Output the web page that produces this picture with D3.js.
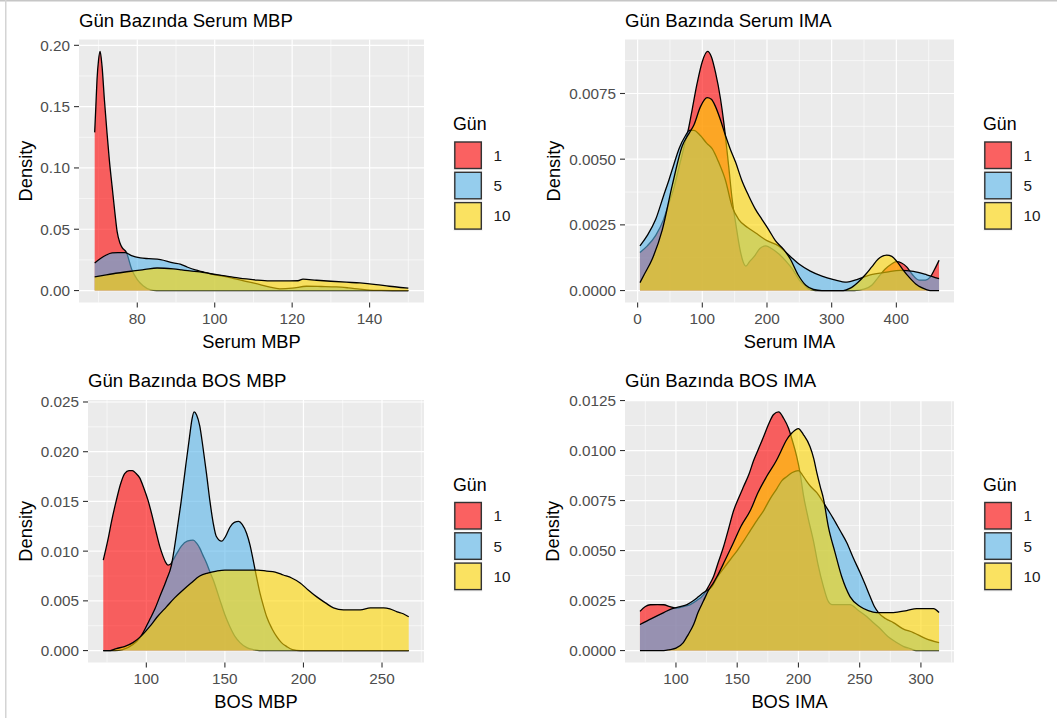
<!DOCTYPE html>
<html><head><meta charset="utf-8">
<script src="https://cdn.jsdelivr.net/npm/d3@7"></script>
<style>
body{margin:0;background:#fff;}
svg{display:block;font-family:"Liberation Sans",Arial,Helvetica,sans-serif;}
</style>
</head><body>
<svg id="chart" width="1057" height="722"></svg>
<script>
// ---------------- data ----------------
const dayLevels = ["1", "5", "10"];
const dayFills = ["#FF0000", "#56B4E9", "#FFD700"];

// Panel 1: Serum MBP
const serumMbpTicksX = [80, 100, 120, 140];
const serumMbpTicksY = [0, 0.05, 0.10, 0.15, 0.20];
const serumMbpDay1 = [[69.0,0.129],[69.3,0.150],[69.6,0.172],[70.0,0.188],[70.4,0.195],[70.9,0.183],[71.5,0.156],[72.2,0.128],[72.8,0.106],[73.5,0.085],[74.2,0.064],[74.8,0.048],[75.5,0.039],[76.1,0.035],[77.2,0.031],[78.6,0.017],[80.0,0.009],[81.5,0.004],[83.3,0.0008],[85.0,0],[150,0]];
const serumMbpDay5 = [[69.0,0.0225],[70.5,0.0262],[72.0,0.029],[73.5,0.0307],[75.0,0.031],[76.9,0.031],[78.5,0.0285],[80.8,0.0266],[83.0,0.026],[86.0,0.0252],[89.3,0.0225],[91.1,0.0215],[93.0,0.019],[95.0,0.0168],[97.0,0.0152],[100.0,0.0128],[102.2,0.0118],[105.0,0.0098],[108.0,0.0075],[111.7,0.0049],[114.0,0.0030],[116.8,0.0014],[120.0,0.0019],[123.7,0.0035],[127.5,0.0033],[131.4,0.0030],[134.5,0.0022],[137.4,0.0012],[140.0,0.0004],[143.0,0.0001],[146.0,0],[150,0]];
const serumMbpDay10 = [[69.0,0.0112],[72.0,0.0128],[75.0,0.0143],[79.0,0.0160],[82.0,0.0172],[85.1,0.0184],[87.0,0.0182],[89.3,0.0176],[91.5,0.0168],[93.6,0.0160],[96.2,0.0153],[99.0,0.0137],[102.2,0.0122],[105.0,0.0108],[108.2,0.0095],[111.0,0.0085],[114.2,0.0079],[118.0,0.0079],[121.5,0.0080],[122.8,0.0093],[126.3,0.0084],[130.0,0.0076],[134.0,0.0068],[137.5,0.0062],[141.7,0.0049],[145.1,0.0035],[148.0,0.0025],[150.0,0.0019]];

// Panel 2: Serum IMA
const serumImaTicksX = [0, 100, 200, 300, 400];
const serumImaTicksY = [0, 0.0025, 0.0050, 0.0075];
const serumImaDay1 = [[3.6,0.00145],[15,0.0017],[28,0.0021],[40,0.0027],[48,0.0033],[56,0.0039],[64,0.0047],[73,0.0056],[79,0.0062],[84.4,0.0069],[92.1,0.0079],[99.8,0.0087],[108,0.0091],[114,0.0089],[120.4,0.0083],[128.1,0.0073],[133.2,0.0064],[140.9,0.0047],[146,0.0035],[152,0.0025],[158,0.0016],[163,0.0011],[167.4,0.00093],[173,0.0011],[180.3,0.0013],[189,0.0016],[198.3,0.0017],[207,0.0016],[218,0.0014],[230,0.0011],[240,0.0008],[250,0.0004],[258,0.0002],[265,0.00005],[275,0],[335,0],[350,0.00005],[362,0.0002],[372,0.0005],[382,0.0008],[392,0.0010],[400,0.0011],[408,0.00105],[416,0.0009],[425,0.0006],[435,0.0004],[445,0.0004],[452,0.0005],[459,0.0008],[466,0.00115]];
const serumImaDay5 = [[3.6,0.0017],[15,0.0021],[27.8,0.0027],[40,0.0036],[48.3,0.0042],[56,0.0048],[64,0.0054],[74.1,0.0059],[80,0.0061],[87,0.0061],[97,0.0059],[107,0.0056],[115.2,0.0054],[125,0.0049],[135.8,0.0042],[146,0.0032],[156.4,0.0027],[170,0.0024],[182,0.0022],[200,0.0019],[218,0.0017],[236,0.0013],[250,0.0010],[267,0.00074],[285,0.00055],[303,0.00042],[323.6,0.00032],[339,0.00042],[359.6,0.0006],[385,0.0007],[405.9,0.00077],[426.4,0.00073],[447,0.0006],[466,0.00045]];
const serumImaDay10 = [[3.6,0.0003],[10,0.0006],[22.6,0.0012],[38,0.0023],[53.5,0.0040],[69,0.0055],[80,0.0060],[87,0.0063],[97.2,0.0070],[107.5,0.00734],[114,0.00728],[120.4,0.0070],[128,0.0065],[135.8,0.0059],[143,0.0054],[151.2,0.0049],[161,0.0042],[171.8,0.0036],[182,0.0031],[192.4,0.0027],[203,0.0023],[213,0.0019],[226,0.00156],[236,0.0012],[248,0.0006],[260,0.0002],[272,0.00004],[285,0],[318,0],[328,0.00008],[340,0.0003],[352,0.0006],[362,0.0009],[372,0.0012],[385,0.00135],[393,0.0013],[401,0.0011],[410,0.0008],[420,0.0005],[430,0.00025],[440,0.0001],[452,0],[466,0]];

// Panel 3: BOS MBP
const bosMbpTicksX = [100, 150, 200, 250];
const bosMbpTicksY = [0, 0.005, 0.010, 0.015, 0.020, 0.025];
const bosMbpDay1 = [[72.6,0.0091],[75.5,0.0111],[78,0.0131],[80.9,0.0151],[83.5,0.0167],[86.2,0.0178],[89,0.0181],[91.1,0.0181],[93.5,0.0178],[95.7,0.0174],[98.5,0.0163],[101.1,0.0151],[103.8,0.0135],[106.4,0.0118],[108.5,0.0105],[110.6,0.0095],[112.2,0.0089],[113.8,0.0086],[115.5,0.0087],[117,0.0091],[119.5,0.0098],[122.3,0.0105],[126,0.0110],[129.8,0.0111],[132,0.0108],[134,0.0103],[136,0.0096],[138.3,0.0088],[140.5,0.0079],[142.6,0.0071],[146.8,0.0051],[150,0.0036],[153.2,0.0024],[156.5,0.0014],[159.6,0.0008],[164,0.0003],[168,0.0001],[172,0],[267,0]];
const bosMbpDay5 = [[72.6,0],[80,0],[85,0.0001],[91.5,0.0006],[96,0.0013],[102.1,0.0031],[105.5,0.0042],[108.5,0.0054],[112.8,0.0071],[116,0.0086],[119,0.0115],[122,0.0148],[125,0.0185],[127.5,0.0215],[129,0.0232],[130.4,0.0240],[132,0.0237],[134,0.0226],[136,0.0205],[138.3,0.0178],[140.5,0.0150],[142.6,0.0128],[144.5,0.0115],[147.9,0.0110],[150.5,0.0115],[153.2,0.0124],[156,0.0129],[158.8,0.0130],[161,0.0127],[163.8,0.0118],[166,0.0106],[168,0.0091],[170,0.0075],[172.3,0.0058],[174.5,0.0045],[176.6,0.0034],[180,0.0022],[183,0.0014],[186,0.0008],[189.4,0.0004],[193,0.0001],[198,0],[267,0]];
const bosMbpDay10 = [[72.6,0],[77,0],[80.9,0.0002],[86,0.0004],[91.5,0.0008],[97,0.0015],[102.1,0.0024],[107,0.0034],[112.8,0.0044],[118,0.0053],[123.4,0.0061],[128.5,0.0068],[134,0.0075],[139,0.0078],[144.7,0.0080],[150,0.0081],[155.3,0.0081],[160,0.0081],[166,0.0081],[171,0.0081],[176.6,0.0080],[182,0.0079],[187.2,0.0076],[192.5,0.0073],[197.9,0.0068],[203,0.0061],[208.5,0.0054],[214,0.0048],[219.1,0.0043],[225.5,0.0041],[231,0.0041],[236.2,0.0041],[242.6,0.0043],[247,0.0043],[251,0.0043],[255,0.0042],[259.6,0.0039],[263.5,0.0037],[267,0.0034]];

// Panel 4: BOS IMA
const bosImaTicksX = [100, 150, 200, 250, 300];
const bosImaTicksY = [0, 0.0025, 0.0050, 0.0075, 0.0100, 0.0125];
const bosImaDay1 = [[70.6,0.00196],[75,0.0022],[79,0.00229],[85,0.0023],[90,0.00229],[95,0.0022],[100.8,0.00212],[106,0.0022],[111.7,0.0023],[117,0.0025],[122.6,0.0028],[126.5,0.0032],[130.7,0.0037],[134.5,0.0044],[138.9,0.0052],[143,0.0061],[147.1,0.0070],[151,0.0076],[155.2,0.0082],[159.5,0.0088],[163.4,0.0095],[167.5,0.0101],[171.6,0.0107],[175.5,0.0113],[179.7,0.0118],[183.8,0.01193],[188,0.0116],[192,0.0111],[195,0.0105],[198.6,0.0097],[201.3,0.0089],[204,0.0078],[208,0.0066],[212.2,0.0055],[216,0.0043],[220.4,0.0032],[224,0.0025],[227.2,0.0023],[235,0.0023],[242.1,0.0023],[249,0.0020],[255.7,0.0017],[261,0.0014],[266.6,0.0011],[273,0.0007],[280.2,0.0004],[286,0.0002],[291.1,0.0001],[296,0],[314.8,0]];
const bosImaDay5 = [[70.6,0.0013],[80,0.0016],[90,0.0019],[97,0.0021],[103.5,0.0022],[109,0.0023],[114.4,0.0025],[118.5,0.0027],[122.6,0.0029],[129.4,0.0032],[134,0.0037],[140,0.0042],[145,0.0046],[150,0.0050],[155.5,0.0055],[160.7,0.0060],[166,0.0065],[171.6,0.0070],[177,0.0076],[182.4,0.0081],[186.5,0.0085],[190.6,0.0087],[195,0.0089],[199.9,0.0090],[203,0.0088],[206.3,0.0085],[210,0.0082],[215,0.0079],[220.4,0.0074],[224.5,0.0070],[228.5,0.0066],[234,0.0060],[239.4,0.0054],[245,0.0046],[250.3,0.0039],[254.5,0.0033],[258.5,0.0027],[262,0.0022],[265.3,0.0019],[271,0.0016],[277.5,0.0014],[285,0.0011],[293.8,0.0009],[304,0.0006],[314.8,0.0004]];
const bosImaDay10 = [[70.6,0],[90,0],[95,0.00005],[100,0.00012],[106,0.0004],[110,0.0008],[114.4,0.0013],[118,0.0019],[122.6,0.0025],[126.5,0.0030],[130.7,0.0034],[133.5,0.0037],[140,0.0045],[147,0.0054],[153,0.0062],[160.7,0.0070],[167,0.0079],[174,0.0087],[182,0.0095],[186,0.0100],[190,0.0105],[195,0.0109],[199.9,0.0111],[204,0.0108],[209.4,0.0102],[212.5,0.0096],[215,0.0089],[217.8,0.0082],[220.4,0.0076],[224.4,0.0062],[229.9,0.0049],[235.3,0.0037],[242.1,0.0027],[250.3,0.0022],[257,0.0020],[263.9,0.0019],[270,0.0019],[277.5,0.0019],[288.4,0.0020],[296.6,0.0021],[303,0.0021],[310.2,0.0021],[314.8,0.0019]];

// ---------------- layout ----------------
const panels = [
  {title:"Gün Bazında Serum MBP", xLabel:"Serum MBP", series:[serumMbpDay1, serumMbpDay5, serumMbpDay10],
   xTicks:serumMbpTicksX, yTicks:serumMbpTicksY, yFmt:d3.format(".2f"),
   left:79, right:424, top:39.5, bottom:302.5, yTitleX:31.5},
  {title:"Gün Bazında Serum IMA", xLabel:"Serum IMA", series:[serumImaDay1, serumImaDay5, serumImaDay10],
   xTicks:serumImaTicksX, yTicks:serumImaTicksY, yFmt:d3.format(".4f"),
   left:625, right:954, top:39.5, bottom:302.5, yTitleX:559.5},
  {title:"Gün Bazında BOS MBP", xLabel:"BOS MBP", series:[bosMbpDay1, bosMbpDay5, bosMbpDay10],
   xTicks:bosMbpTicksX, yTicks:bosMbpTicksY, yFmt:d3.format(".3f"),
   left:88, right:424, top:400, bottom:662.5, yTitleX:31.5},
  {title:"Gün Bazında BOS IMA", xLabel:"BOS IMA", series:[bosImaDay1, bosImaDay5, bosImaDay10],
   xTicks:bosImaTicksX, yTicks:bosImaTicksY, yFmt:d3.format(".4f"),
   left:625, right:954, top:400, bottom:662.5, yTitleX:559}
];

const svg = d3.select("#chart");
svg.append("rect").attr("width",1057).attr("height",722).attr("fill","#fff");
// page frame lines
svg.append("rect").attr("x",0).attr("y",0).attr("width",1057).attr("height",1.5).attr("fill","#C6C6C6");
svg.append("rect").attr("x",5).attr("y",0).attr("width",1.5).attr("height",718).attr("fill","#D4D4D4");

function expand(ext){ const d = (ext[1]-ext[0])*0.05; return [ext[0]-d, ext[1]+d]; }
function minorTicks(major, domain){
  const step = major[1]-major[0];
  const out = [];
  const ext = [major[0]-step].concat(major, [major[major.length-1]+step]);
  for (let i=0;i<ext.length-1;i++){ const m=(ext[i]+ext[i+1])/2; if (m>=domain[0] && m<=domain[1]) out.push(m); }
  return out;
}

panels.forEach((p, pi) => {
  const all = p.series.flat();
  const xDom = expand(d3.extent(all, d => d[0]));
  const yDom = expand([0, d3.max(all, d => d[1])]);
  const x = d3.scaleLinear().domain(xDom).range([p.left, p.right]);
  const y = d3.scaleLinear().domain(yDom).range([p.bottom, p.top]);
  const g = svg.append("g");

  g.append("rect").attr("x",p.left).attr("y",p.top).attr("width",p.right-p.left).attr("height",p.bottom-p.top).attr("fill","#EBEBEB");

  const xMaj = p.xTicks.filter(v => v>=xDom[0] && v<=xDom[1]);
  const yMaj = p.yTicks.filter(v => v>=yDom[0] && v<=yDom[1]);
  const xMin = minorTicks(p.xTicks, xDom), yMin = minorTicks(p.yTicks, yDom);

  g.selectAll(null).data(xMin).join("line").attr("x1",d=>x(d)).attr("x2",d=>x(d)).attr("y1",p.top).attr("y2",p.bottom).attr("stroke","#fff").attr("stroke-width",0.6);
  g.selectAll(null).data(yMin).join("line").attr("y1",d=>y(d)).attr("y2",d=>y(d)).attr("x1",p.left).attr("x2",p.right).attr("stroke","#fff").attr("stroke-width",0.6);
  g.selectAll(null).data(xMaj).join("line").attr("x1",d=>x(d)).attr("x2",d=>x(d)).attr("y1",p.top).attr("y2",p.bottom).attr("stroke","#fff").attr("stroke-width",1.2);
  g.selectAll(null).data(yMaj).join("line").attr("y1",d=>y(d)).attr("y2",d=>y(d)).attr("x1",p.left).attr("x2",p.right).attr("stroke","#fff").attr("stroke-width",1.2);

  const clipId = "clip"+pi;
  svg.append("clipPath").attr("id",clipId).append("rect").attr("x",p.left).attr("y",p.top).attr("width",p.right-p.left).attr("height",p.bottom-p.top);
  const plot = g.append("g").attr("clip-path",`url(#${clipId})`);
  const area = d3.area().x(d=>x(d[0])).y0(y(0)).y1(d=>y(d[1])).curve(d3.curveMonotoneX);
  const line = d3.line().x(d=>x(d[0])).y(d=>y(d[1])).curve(d3.curveMonotoneX);
  p.series.forEach((s, si) => {
    plot.append("path").datum(s).attr("d",area).attr("fill",dayFills[si]).attr("fill-opacity",0.6);
    plot.append("path").datum(s).attr("d",line).attr("fill","none").attr("stroke","#000").attr("stroke-width",1.3).attr("stroke-linejoin","round");
  });

  // axes
  g.selectAll(null).data(yMaj).join("line").attr("x1",p.left-5).attr("x2",p.left).attr("y1",d=>y(d)).attr("y2",d=>y(d)).attr("stroke","#333").attr("stroke-width",1.1);
  g.selectAll(null).data(yMaj).join("text").attr("x",p.left-9).attr("y",d=>y(d)).attr("dy","0.36em").attr("text-anchor","end")
    .attr("font-size","15.3px").attr("fill","#4D4D4D").text(d=>p.yFmt(d));
  g.selectAll(null).data(xMaj).join("line").attr("y1",p.bottom).attr("y2",p.bottom+5).attr("x1",d=>x(d)).attr("x2",d=>x(d)).attr("stroke","#333").attr("stroke-width",1.1);
  g.selectAll(null).data(xMaj).join("text").attr("x",d=>x(d)).attr("y",p.bottom+21.5).attr("text-anchor","middle")
    .attr("font-size","15.3px").attr("fill","#4D4D4D").text(d=>d3.format("d")(d));

  // titles
  g.append("text").attr("x",p.left).attr("y",p.top-13).attr("font-size","18.6px").attr("fill","#000").text(p.title);
  g.append("text").attr("x",(p.left+p.right)/2).attr("y",p.bottom+45.5).attr("text-anchor","middle").attr("font-size","18.3px").attr("fill","#000").text(p.xLabel);
  g.append("text").attr("transform",`translate(${p.yTitleX},${(p.top+p.bottom)/2}) rotate(-90)`).attr("text-anchor","middle").attr("font-size","18.3px").attr("fill","#000").text("Density");

  // legend
  const lx = p.right + 29, ly = p.top + 90.5;
  g.append("text").attr("x",lx).attr("y",ly).attr("font-size","17.8px").attr("fill","#000").text("Gün");
  dayLevels.forEach((lev, li) => {
    const ky = p.top + 101.5 + li*30.3;
    g.append("rect").attr("x",p.right+29.5).attr("y",ky).attr("width",29).attr("height",29.5).attr("fill","#F2F2F2");
    g.append("rect").attr("x",p.right+30.8).attr("y",ky+1).attr("width",26.5).attr("height",26.5)
      .attr("fill",dayFills[li]).attr("fill-opacity",0.6).attr("stroke","#333").attr("stroke-width",1.4);
    g.append("text").attr("x",p.right+69.5).attr("y",ky+14.2).attr("dy","0.36em").attr("font-size","15.3px").attr("fill","#1A1A1A").text(lev);
  });
});
</script>
</body></html>
